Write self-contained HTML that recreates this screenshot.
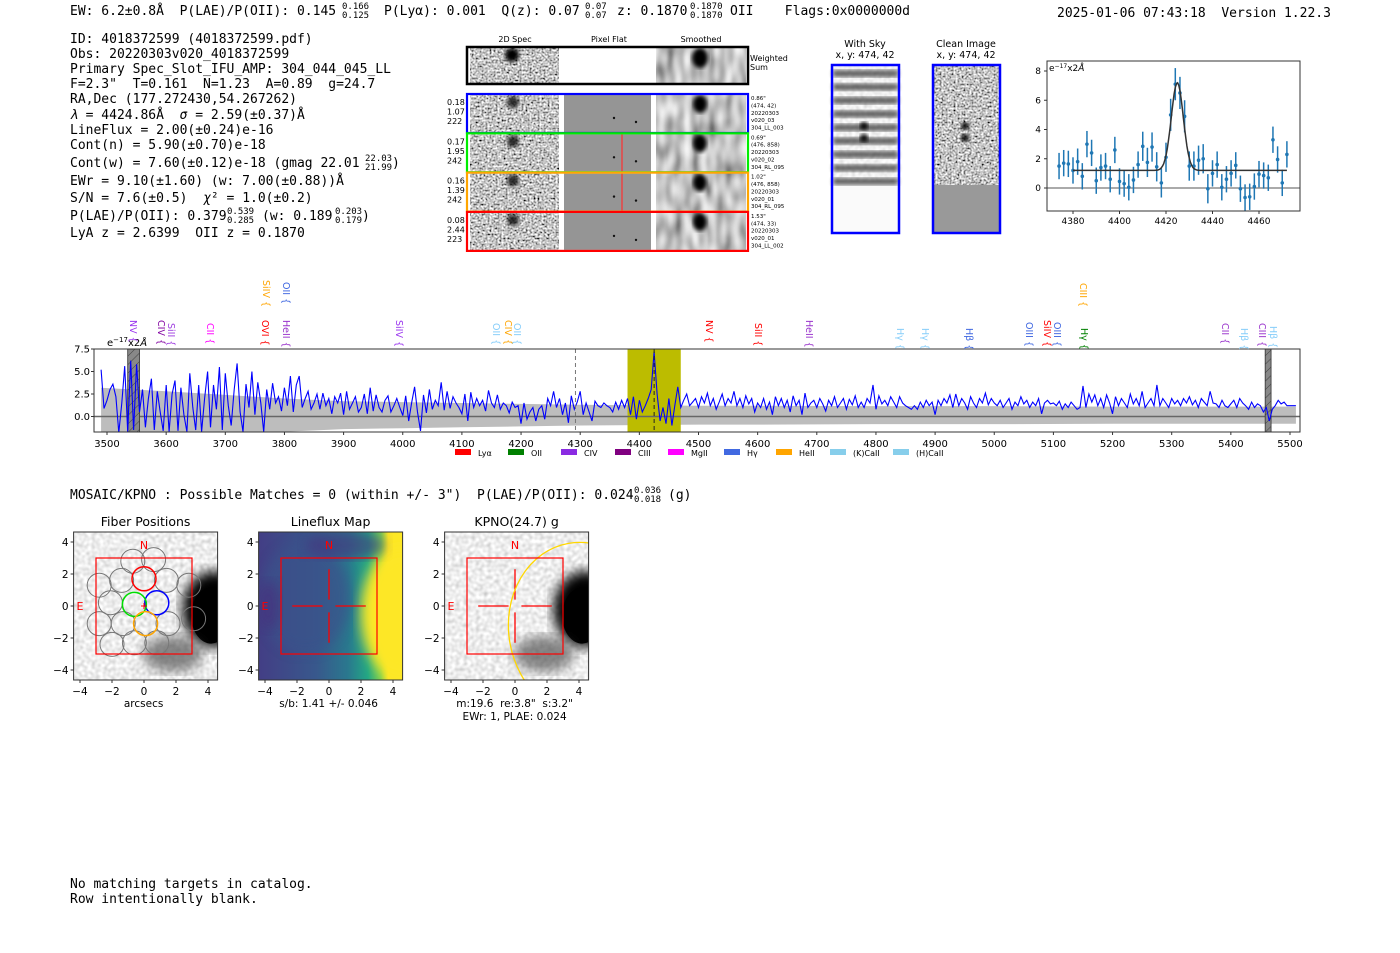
<!DOCTYPE html>
<html><head><meta charset="utf-8">
<style>
html,body{margin:0;padding:0;background:#fff;}
svg{display:block;}
.mono{font-family:"DejaVu Sans Mono","Liberation Mono",monospace;font-size:13px;fill:#000;white-space:pre;}
.mono[font-size="9"]{font-size:9px;}
.sans{font-family:"DejaVu Sans","Liberation Sans",sans-serif;fill:#000;white-space:pre;}
</style></head>
<body>
<svg id="root" width="1400" height="953" viewBox="0 0 1400 953" xmlns="http://www.w3.org/2000/svg" xml:space="preserve">
<defs>
<filter id="nz" x="0" y="0" width="1" height="1"><feTurbulence type="fractalNoise" baseFrequency="0.5" numOctaves="1" seed="3"/><feColorMatrix type="saturate" values="0"/><feComponentTransfer><feFuncR type="linear" slope="2.6" intercept="-0.75"/><feFuncG type="linear" slope="2.6" intercept="-0.75"/><feFuncB type="linear" slope="2.6" intercept="-0.75"/><feFuncA type="linear" slope="0" intercept="1"/></feComponentTransfer></filter>
<filter id="sm" x="0" y="0" width="1" height="1"><feTurbulence type="fractalNoise" baseFrequency="0.12 0.05" numOctaves="1" seed="7"/><feColorMatrix type="saturate" values="0"/><feComponentTransfer><feFuncR type="linear" slope="1.6" intercept="-0.25"/><feFuncG type="linear" slope="1.6" intercept="-0.25"/><feFuncB type="linear" slope="1.6" intercept="-0.25"/><feFuncA type="linear" slope="0" intercept="1"/></feComponentTransfer></filter>
<filter id="px" x="0" y="0" width="1" height="1"><feTurbulence type="fractalNoise" baseFrequency="0.25" numOctaves="1" seed="11"/><feColorMatrix type="saturate" values="0"/><feComponentTransfer><feFuncR type="linear" slope="0.9" intercept="0.4"/><feFuncG type="linear" slope="0.9" intercept="0.4"/><feFuncB type="linear" slope="0.9" intercept="0.4"/><feFuncA type="linear" slope="0" intercept="1"/></feComponentTransfer></filter>
<filter id="bl"><feGaussianBlur stdDeviation="6"/></filter>
<filter id="bl2"><feGaussianBlur stdDeviation="2"/></filter>
<pattern id="hatch" width="6" height="6" patternUnits="userSpaceOnUse" patternTransform="rotate(45)"><rect width="6" height="6" fill="#888"/><line x1="0" y1="0" x2="0" y2="6" stroke="#444" stroke-width="1"/></pattern>
<linearGradient id="vir" x1="0" y1="0" x2="1" y2="0"><stop offset="0" stop-color="#433e85"/><stop offset="0.4" stop-color="#38588c"/><stop offset="0.62" stop-color="#2a788e"/><stop offset="0.76" stop-color="#22a884"/><stop offset="0.85" stop-color="#7ad151"/><stop offset="0.9" stop-color="#fde725"/><stop offset="1" stop-color="#fde725"/></linearGradient>
</defs>

<g>
<text class="mono" x="70" y="15">EW: 6.2±0.8Å  P(LAE)/P(OII): 0.145</text>
<text class="mono" x="342" y="9" font-size="9">0.166</text><text class="mono" x="342" y="18" font-size="9">0.125</text>
<text class="mono" x="384" y="15">P(Lyα): 0.001  Q(z): 0.07</text>
<text class="mono" x="585" y="9" font-size="9">0.07</text><text class="mono" x="585" y="18" font-size="9">0.07</text>
<text class="mono" x="617" y="15">z: 0.1870</text>
<text class="mono" x="690" y="9" font-size="9">0.1870</text><text class="mono" x="690" y="18" font-size="9">0.1870</text>
<text class="mono" x="730" y="15">OII    Flags:0x0000000d</text>
<text class="mono" x="1057" y="17">2025-01-06 07:43:18  Version 1.22.3</text>
</g>

<g>
<text class="mono" x="70" y="43">ID: 4018372599 (4018372599.pdf)</text>
<text class="mono" x="70" y="58">Obs: 20220303v020_4018372599</text>
<text class="mono" x="70" y="73">Primary Spec_Slot_IFU_AMP: 304_044_045_LL</text>
<text class="mono" x="70" y="88">F=2.3"  T=0.161  N=1.23  A=0.89  g=24.7</text>
<text class="mono" x="70" y="103">RA,Dec (177.272430,54.267262)</text>
<text class="mono" x="70" y="119"><tspan font-style="italic">λ</tspan> = 4424.86Å  <tspan font-style="italic">σ</tspan> = 2.59(±0.37)Å</text>
<text class="mono" x="70" y="134">LineFlux = 2.00(±0.24)e-16</text>
<text class="mono" x="70" y="149">Cont(n) = 5.90(±0.70)e-18</text>
<text class="mono" x="70" y="167">Cont(w) = 7.60(±0.12)e-18 (gmag 22.01</text>
<text class="mono" x="365" y="161" font-size="9">22.03</text><text class="mono" x="365" y="170" font-size="9">21.99</text><text class="mono" x="392" y="167">)</text>
<text class="mono" x="70" y="185">EWr = 9.10(±1.60) (w: 7.00(±0.88))Å</text>
<text class="mono" x="70" y="202">S/N = 7.6(±0.5)  <tspan font-style="italic">χ</tspan>² = 1.0(±0.2)</text>
<text class="mono" x="70" y="220">P(LAE)/P(OII): 0.379</text>
<text class="mono" x="227" y="214" font-size="9">0.539</text><text class="mono" x="227" y="223" font-size="9">0.285</text>
<text class="mono" x="262" y="220">(w: 0.189</text>
<text class="mono" x="335" y="214" font-size="9">0.203</text><text class="mono" x="335" y="223" font-size="9">0.179</text><text class="mono" x="362" y="220">)</text>
<text class="mono" x="70" y="237">LyA z = 2.6399  OII z = 0.1870</text>
</g>

<g>
<text class="sans" x="515" y="42" font-size="8" text-anchor="middle">2D Spec</text>
<text class="sans" x="609" y="42" font-size="8" text-anchor="middle">Pixel Flat</text>
<text class="sans" x="701" y="42" font-size="8" text-anchor="middle">Smoothed</text>
<g>
<rect x="470" y="48" width="89" height="36" filter="url(#nz)"/>
<rect x="656" y="48" width="90" height="36" filter="url(#sm)"/>
<ellipse cx="512" cy="55" rx="7" ry="7" fill="#000" filter="url(#bl2)"/>
<ellipse cx="700" cy="58" rx="8" ry="10" fill="#000" filter="url(#bl2)"/>
<rect x="467" y="47" width="281" height="37" fill="none" stroke="#000" stroke-width="2.5"/>
<text class="sans" x="750" y="61" font-size="8">Weighted</text><text class="sans" x="750" y="70" font-size="8">Sum</text>
</g>
</g>
<g id="rows"></g>

<g>
<text class="sans" x="865" y="47" font-size="9.5" text-anchor="middle">With Sky</text>
<text class="sans" x="865" y="58" font-size="9.5" text-anchor="middle">x, y: 474, 42</text>
<text class="sans" x="966" y="47" font-size="9.5" text-anchor="middle">Clean Image</text>
<text class="sans" x="966" y="58" font-size="9.5" text-anchor="middle">x, y: 474, 42</text>
<rect x="832" y="65" width="67" height="168" fill="#fafafa"/>
<g id="skybands"></g>
<ellipse cx="864" cy="126" rx="4" ry="4" fill="#000" filter="url(#bl2)"/>
<ellipse cx="864" cy="138" rx="4" ry="4" fill="#000" filter="url(#bl2)"/>
<rect x="832" y="65" width="67" height="168" fill="none" stroke="#00f" stroke-width="2.5"/>
<rect x="933" y="65" width="67" height="120" filter="url(#nz)"/>
<rect x="933" y="185" width="67" height="48" fill="#999"/>
<ellipse cx="965" cy="126" rx="4" ry="4" fill="#000" filter="url(#bl2)"/>
<ellipse cx="965" cy="138" rx="4" ry="4" fill="#000" filter="url(#bl2)"/>
<rect x="933" y="65" width="67" height="168" fill="none" stroke="#00f" stroke-width="2.5"/>
</g>

<g id="inset"></g>
<g id="spec"></g>
<g id="linelabels"></g>
<g id="legend"></g>

<text class="mono" x="70" y="499">MOSAIC/KPNO : Possible Matches = 0 (within +/- 3")  P(LAE)/P(OII): 0.024</text>
<text class="mono" x="634" y="493" font-size="9">0.036</text><text class="mono" x="634" y="502" font-size="9">0.018</text>
<text class="mono" x="668" y="499">(g)</text>

<g id="panels"></g>

<text class="mono" x="70" y="888">No matching targets in catalog.</text>
<text class="mono" x="70" y="903">Row intentionally blank.</text>
</svg>

<script>
const specStart = 3490;
const specStep = 5;
const specFlux = [5.2,0.9,
1.8,3.0,3.6,2.2,-1.8,1.5,5.6,-1.7,6.2,-1.5,5.8,0.5,3.0,-1.2,2.0,4.2,-1.5,2.8,0.5,-1.6,
3.5,-1.7,2.5,4.0,-1.6,3.2,0.2,-1.7,4.8,1.0,-1.5,3.5,-1.7,2.0,5.0,-1.2,3.5,0.8,5.5,-1.5,
4.8,1.2,-1.0,3.0,5.9,0.5,-1.7,3.6,1.0,5.0,0.2,3.8,1.5,-1.7,3.0,0.8,3.7,1.5,2.2,0.6,
3.2,1.2,4.5,0.5,3.5,4.5,1.0,2.0,2.8,0.8,1.5,2.5,0.8,2.6,1.2,2.0,0.3,2.2,1.5,2.6,
0.2,2.8,0.8,1.5,2.2,0.5,1.0,2.5,0.3,3.2,0.6,2.4,1.0,0.5,1.8,2.3,0.5,1.2,2.0,1.0,
0.1,2.3,-0.5,1.5,3.3,0.5,-1.6,2.4,0.4,3.0,0.8,1.8,1.2,3.8,0.7,2.8,0.9,2.2,1.5,1.0,
0.3,2.5,-0.5,2.7,1.0,2.0,1.2,1.8,0.6,2.9,1.5,1.0,2.4,0.8,1.5,1.2,0.4,1.6,1.0,1.2,
-0.8,1.5,-0.3,0.5,1.0,-0.5,0.8,1.2,-0.3,2.0,1.2,2.8,1.0,2.0,0.2,1.5,-0.7,2.3,0.8,1.6,
2.8,0.2,1.5,0.5,-0.5,1.7,1.2,1.0,1.5,1.2,1.0,0.5,1.6,0.8,1.8,1.0,2.0,0.2,2.2,-0.3,
1.8,0.5,1.2,2.0,3.0,7.2,2.5,-0.5,1.0,-0.8,2.0,-1.0,1.2,3.3,1.0,1.8,2.5,1.2,1.6,2.0,
1.0,2.2,1.5,2.6,1.2,2.0,0.8,1.6,2.5,1.2,2.0,1.5,2.8,1.2,2.0,1.0,2.3,1.4,2.0,0.5,
1.5,1.0,2.0,0.8,1.6,0.2,2.2,1.2,2.0,1.0,1.8,0.5,2.3,1.2,1.8,0.2,2.6,1.0,1.5,1.8,
1.0,2.0,1.4,0.6,1.8,1.2,2.2,1.0,1.5,2.0,0.8,1.9,1.3,2.3,1.0,1.6,1.0,2.0,1.5,3.5,
0.8,2.3,1.4,1.8,1.2,2.2,1.6,1.0,2.2,1.5,1.2,1.0,0.8,1.2,0.8,1.6,1.0,1.8,1.2,1.6,
0.2,1.8,1.2,2.0,1.5,2.4,1.0,2.5,1.2,2.0,1.5,0.8,2.2,1.5,1.0,2.0,1.5,2.6,1.3,2.0,
1.5,1.2,1.8,1.0,1.5,2.0,0.8,1.6,1.2,2.2,1.4,1.8,1.0,1.6,1.2,2.0,0.3,1.5,1.8,1.4,
1.5,1.2,1.7,0.8,1.4,1.0,1.6,1.2,0.8,1.0,3.4,1.0,2.5,1.6,2.4,1.2,2.0,1.0,2.4,1.5,
0.3,2.2,1.2,2.0,1.5,1.0,2.5,1.4,2.0,1.2,2.8,1.0,1.5,2.0,1.2,3.5,1.2,2.0,1.5,1.0,
2.0,1.4,1.8,1.2,2.0,1.5,2.2,1.3,1.8,1.0,2.0,1.6,1.2,2.8,1.5,1.4,1.0,1.8,1.2,1.0,
1.4,1.8,1.0,2.0,1.5,1.2,0.8,1.6,1.0,1.4,1.2,0.5,1.0,-0.5,0.8,1.2,1.8,1.4,1.6,1.2,
1.2,1.2,1.2];
const errWave = [3490,3600,3700,3800,3900,4000,4100,4200,4300,4400,4500,4600,4800,5000,5200,5400,5510];
const errVal  = [3.0,2.6,2.2,1.8,1.5,1.4,1.3,1.2,1.1,1.05,1.0,1.0,0.95,0.95,0.9,0.9,0.9];
const specTicks = [3500,3600,3700,3800,3900,4000,4100,4200,4300,4400,4500,4600,4700,4800,4900,5000,5100,5200,5300,5400,5500];
const specYTicks = [0.0,2.5,5.0,7.5];
const yellowBand = [4380,4470];
const maskBands = [[3535,3555],[5458,5468]];
const dashLines = [4292,4425];

const fitWave = [4374,4376,4378,4380,4382,4384,4386,4388,4390,4392,4394,4396,4398,4400,4402,4404,4406,4408,4410,4412,4414,4416,4418,4420,4422,4424,4426,4428,4430,4432,4434,4436,4438,4440,4442,4444,4446,4448,4450,4452,4454,4456,4458,4460,4462,4464,4466,4468,4470,4472];
const fitFlux = [1.5,1.7,1.65,1.2,1.8,0.8,3.0,2.4,0.5,1.4,1.5,0.6,2.6,0.45,0.3,0.05,0.55,1.6,2.85,1.75,2.8,1.45,0.35,2.1,5.0,7.1,6.5,4.9,1.5,1.5,1.9,2.0,-0.05,1.0,1.6,0.05,0.6,1.0,1.55,-0.05,-0.65,-0.6,0.1,0.95,0.85,0.7,3.3,1.95,0.35,2.3];
const fitErr = [0.9,0.9,0.9,0.9,0.9,0.9,0.9,0.9,0.9,0.9,0.9,0.9,0.9,0.9,0.9,0.9,0.9,0.9,1.0,1.0,1.0,1.0,1.0,1.0,1.1,1.1,1.1,1.1,1.0,1.0,1.0,1.0,1.0,0.9,0.9,0.9,0.9,0.9,0.9,0.9,0.9,0.9,0.9,0.9,0.9,0.9,0.9,0.9,0.9,0.9];
const fitParams = [4424.86, 2.59, 6.0, 1.2];
const insetXTicks = [4380,4400,4420,4440,4460];
const insetYTicks = [0,2,4,6,8];

const NS='http://www.w3.org/2000/svg';
function mk(tag, attrs, parent){const e=document.createElementNS(NS,tag);for(const k in attrs)e.setAttribute(k,attrs[k]);if(parent)parent.appendChild(e);return e;}

(function(){
 const g=document.getElementById('spec');
 const X0=94,X1=1300,Y0=349,Y1=432;
 const sx=w=>107+(w-3500)*(1290-107)/2000;
 const sy=v=>416.5-v*(416.5-349)/7.5;
 const clip=mk('clipPath',{id:'specclip'},g);mk('rect',{x:X0,y:Y0,width:X1-X0,height:Y1-Y0},clip);
 const inner=mk('g',{'clip-path':'url(#specclip)'},g);
 let up=[],dn=[];
 for(let i=0;i<errWave.length;i++){up.push(sx(errWave[i])+','+sy(errVal[i]+0.2));dn.unshift(sx(errWave[i])+','+sy(-errVal[i]+0.1));}
 const band=mk('polygon',{points:up.concat(dn).join(' '),fill:'#bdbdbd'},inner);
 
 
 const yb=mk('rect',{x:sx(yellowBand[0]),y:Y0,width:sx(yellowBand[1])-sx(yellowBand[0]),height:Y1-Y0,fill:'#bcbc00'},inner);
 
 
 mk('line',{x1:X0,x2:X1,y1:sy(0),y2:sy(0),stroke:'#666','stroke-width':1.5},inner);
 maskBands.forEach(b=>{
  const r=mk('rect',{x:sx(b[0]),y:Y0,width:sx(b[1])-sx(b[0]),height:Y1-Y0,fill:'url(#hatch)',stroke:'#333','stroke-width':0.8},inner);
  
  
 });
 let pts=[];for(let i=0;i<specFlux.length;i++)pts.push(sx(specStart+i*specStep).toFixed(1)+','+sy(specFlux[i]).toFixed(1));
 const ln=mk('polyline',{points:pts.join(' '),fill:'none',stroke:'#0000ff','stroke-width':1.1},inner);
 
 
 dashLines.forEach((w,i)=>{
  const d=mk('line',{x1:sx(w),x2:sx(w),y1:Y0,y2:Y1,stroke:i?'#222':'#777','stroke-width':1,'stroke-dasharray':'4,3'},inner);
  
  
 });
 mk('rect',{x:X0,y:Y0,width:X1-X0,height:Y1-Y0,fill:'none',stroke:'#333','stroke-width':1},g);
 specTicks.forEach(t=>{
  mk('line',{x1:sx(t),x2:sx(t),y1:Y1,y2:Y1+3,stroke:'#333'},g);
  const tx=mk('text',{x:sx(t),y:Y1+15,'text-anchor':'middle','font-size':10,class:'sans'},g);tx.textContent=t;
  
  
 });
 specYTicks.forEach(t=>{
  mk('line',{x1:X0-3,x2:X0,y1:sy(t),y2:sy(t),stroke:'#333'},g);
  const tx=mk('text',{x:X0-4,y:sy(t)+3.5,'text-anchor':'end','font-size':10,class:'sans'},g);tx.textContent=t.toFixed(1);
  
  
 });
 const u=mk('text',{x:107,y:346,'font-size':10,class:'sans'},g);u.innerHTML='e<tspan font-size="7" dy="-4">−17</tspan><tspan dy="4">x2</tspan><tspan font-style="italic">Å</tspan>';
 
 
})();

const lineLabelNames=['NV','CIV','SiII','CII','SiIV','OII','OVI','HeII','SiIV','OII','CIV','OII','NV','SiII','HeII','Hγ','Hγ','Hβ','OIII','SiIV','OIII','CIII','Hγ','CII','Hβ','CIII','Hβ'];
const lineLabelX=[133,161,171,210,266,286,265,286,399,496,508,517,709,758,809,900,925,969,1029,1047,1057,1083,1084,1225,1244,1262,1273];
const lineLabelY=[320,320,323,323,280,282,320,320,320,323,320,323,320,323,320,328,328,328,322,320,322,283,328,323,328,323,326];
const lineLabelC=['#9933ee','#8000a0','#a040e0','#ff00ff','#ffa500','#4169e1','#ff0000','#9933cc','#9933ee','#87cefa','#ffa500','#87cefa','#ff0000','#ff0000','#9933cc','#87cefa','#87cefa','#4169e1','#4169e1','#ff0000','#4169e1','#ffa500','#008000','#9933cc','#87cefa','#9933cc','#87cefa'];
(function(){
 const g=document.getElementById('linelabels');
 for(let i=0;i<lineLabelNames.length;i++){
  const t=mk('text',{transform:`translate(${lineLabelX[i]-3},${lineLabelY[i]}) rotate(90)`,'font-size':9.5,class:'sans'},g);
  t.style.fill=lineLabelC[i];
  t.textContent=lineLabelNames[i]+' {';
  
  
 }
})();

const legendNames=['Lyα','OII','CIV','CIII','MgII','Hγ','HeII','(K)CaII','(H)CaII'];
const legendColors=['#ff0000','#008000','#8a2be2','#800080','#ff00ff','#4169e1','#ffa500','#87ceeb','#87ceeb'];
const legendX=[455,508,561,615,668,724,776,830,893];
(function(){
 const g=document.getElementById('legend');
 for(let i=0;i<legendNames.length;i++){
  const r=mk('rect',{x:legendX[i],y:449,width:16,height:6,fill:legendColors[i]},g);
  
  
  const t=mk('text',{x:legendX[i]+23,y:456,'font-size':8,class:'sans'},g);t.textContent=legendNames[i];
  
  
 }
})();

(function(){
 const g=document.getElementById('inset');
 const X0=1047,X1=1300,Y0=61,Y1=211;
 const sx=w=>1073+(w-4380)*(1259-1073)/80;
 const sy=v=>188-v*(188-71)/8;
 const clip=mk('clipPath',{id:'insclip'},g);mk('rect',{x:X0,y:Y0,width:X1-X0,height:Y1-Y0},clip);
 const inner=mk('g',{'clip-path':'url(#insclip)'},g);
 mk('line',{x1:X0,x2:X1,y1:sy(0),y2:sy(0),stroke:'#555','stroke-width':1},inner);
 for(let i=0;i<fitWave.length;i++){
  const x=sx(fitWave[i]);
  const e=mk('line',{x1:x,x2:x,y1:sy(fitFlux[i]-fitErr[i]),y2:sy(fitFlux[i]+fitErr[i]),stroke:'#1f77b4','stroke-width':1.5},inner);
  
  
  const p=mk('circle',{cx:x,cy:sy(fitFlux[i]),r:1.8,fill:'#1f77b4'},inner);
  
  
 }
 let pts=[];
 for(let w=4380;w<=4472;w+=0.5){const v=fitParams[3]+fitParams[2]*Math.exp(-Math.pow(w-fitParams[0],2)/(2*fitParams[1]*fitParams[1]));pts.push(sx(w).toFixed(1)+','+sy(v).toFixed(1));}
 const m=mk('polyline',{points:pts.join(' '),fill:'none',stroke:'#333','stroke-width':1.5},inner);
 
 
 mk('rect',{x:X0,y:Y0,width:X1-X0,height:Y1-Y0,fill:'none',stroke:'#333','stroke-width':1},g);
 insetXTicks.forEach(t=>{mk('line',{x1:sx(t),x2:sx(t),y1:Y1,y2:Y1+3,stroke:'#333'},g);const tx=mk('text',{x:sx(t),y:Y1+13,'text-anchor':'middle','font-size':9,class:'sans'},g);tx.textContent=t;
  
  });
 insetYTicks.forEach(t=>{mk('line',{x1:X0-3,x2:X0,y1:sy(t),y2:sy(t),stroke:'#333'},g);const tx=mk('text',{x:X0-6,y:sy(t)+3,'text-anchor':'end','font-size':9,class:'sans'},g);tx.textContent=t;
  
  });
 const u=mk('text',{x:X0+2,y:71,'font-size':9,class:'sans'},g);u.innerHTML='e<tspan font-size="6" dy="-3">−17</tspan><tspan dy="3">x2</tspan><tspan font-style="italic">Å</tspan>';
 
 
})();

const rowColors=['#0000ff','#00ee00','#ffa500','#ff0000'];
const rowLabels=[['0.18','1.07','222'],['0.17','1.95','242'],['0.16','1.39','242'],['0.08','2.44','223']];
const rowInfo=[['0.86"','(474, 42)','20220303','v020_03','304_LL_003'],['0.69"','(476, 858)','20220303','v020_02','304_RL_095'],['1.02"','(476, 858)','20220303','v020_01','304_RL_095'],['1.53"','(474, 33)','20220303','v020_01','304_LL_002']];
(function(){
 const g=document.getElementById('rows');
 for(let i=0;i<4;i++){
  const y=95+i*39.3;
  const row=mk('g',{},g);
  
  
  mk('rect',{x:470,y:y,width:89,height:37,filter:'url(#nz)'},row);
  mk('rect',{x:564,y:y,width:87,height:37,fill:'#959595'},row);
  mk('rect',{x:656,y:y,width:90,height:37,filter:'url(#sm)'},row);
  mk('ellipse',{cx:513,cy:y+7,rx:6,ry:6,fill:'#000',filter:'url(#bl2)',opacity:0.8},row);
  mk('ellipse',{cx:700,cy:y+9,rx:7,ry:9,fill:'#000',filter:'url(#bl2)'},row);
  if(i==1||i==2)mk('line',{x1:622,x2:622,y1:y,y2:y+37,stroke:'#ff3030','stroke-width':1.2},row);
  mk('circle',{cx:614,cy:y+23,r:1.2,fill:'#111'},row);mk('circle',{cx:636,cy:y+27,r:1.2,fill:'#111'},row);
  mk('rect',{x:467,y:y-1,width:281,height:39,fill:'none',stroke:rowColors[i],'stroke-width':2.2},row);
  for(let k=0;k<3;k++){const t=mk('text',{x:447,y:y+10+k*9.5,'font-size':8,class:'sans'},row);t.textContent=rowLabels[i][k];}
  for(let k=0;k<5;k++){const t=mk('text',{x:751,y:y+5+k*7.4,'font-size':5.5,class:'sans'},row);t.textContent=rowInfo[i][k];}
 }
 const sb=document.getElementById('skybands');
 mk('rect',{x:833,y:66,width:65,height:116,filter:'url(#px)',opacity:0.6},sb);
 for(let k=0;k<9;k++){mk('rect',{x:833,y:70+k*13.5,width:65,height:7,fill:'#333',opacity:0.75,filter:'url(#bl2)'},sb);}
})();

const fiberX=[-0.7,0.6,-2.8,-1.4,1.4,2.8,-2.1,3.1,-2.8,-1.3,1.5,-2.0,-0.6,0.8];
const fiberY=[2.8,2.9,1.3,1.6,1.6,1.3,0.2,-0.8,-1.1,-1.1,-1.1,-2.4,-2.3,-2.3];
const hiX=[0,0.8,-0.6,0.1];
const hiY=[1.7,0.2,0.1,-1.1];
const hiC=['#ff0000','#0000ff','#00dd00','#ffa500'];
const axTicks=[-4,-2,0,2,4];
(function(){
 const g=document.getElementById('panels');
 const panels=[{x0:144,title:'Fiber Positions',cap:['arcsecs']},{x0:329,title:'Lineflux Map',cap:['s/b: 1.41 +/- 0.046']},{x0:515,title:'KPNO(24.7) g',cap:['m:19.6  re:3.8"  s:3.2"','EWr: 1, PLAE: 0.024']}];
 panels.forEach((p,pi)=>{
  const pg=mk('g',{},g);
  
  
  const sx=v=>p.x0+v*16, sy=v=>606-v*16;
  const L=sx(-4.4),R=sx(4.6),T=532,B=680;
  const cid='pc'+pi;const cp=mk('clipPath',{id:cid},pg);mk('rect',{x:L,y:T,width:R-L,height:B-T},cp);
  const inner=mk('g',{'clip-path':`url(#${cid})`},pg);
  if(pi==1){
   mk('rect',{x:L,y:T,width:R-L,height:B-T,fill:'url(#vir)'},inner);
   mk('ellipse',{cx:sx(4.5),cy:sy(-0.5),rx:40,ry:65,fill:'#fde725',filter:'url(#bl)'},inner);
   mk('ellipse',{cx:sx(-1.5),cy:sy(0.5),rx:45,ry:55,fill:'#3b528b',opacity:0.7,filter:'url(#bl)'},inner);
   mk('ellipse',{cx:sx(1),cy:sy(3.8),rx:40,ry:14,fill:'#46327e',opacity:0.6,filter:'url(#bl)'},inner);
   mk('ellipse',{cx:sx(-3.8),cy:sy(0),rx:12,ry:25,fill:'#46327e',opacity:0.7,filter:'url(#bl)'},inner);
  } else {
   mk('rect',{x:L,y:T,width:R-L,height:B-T,filter:'url(#px)'},inner);
   mk('ellipse',{cx:sx(4.4),cy:sy(-0.2),rx:32,ry:38,fill:'#000',filter:'url(#bl)'},inner);
   mk('ellipse',{cx:sx(4.2),cy:sy(-0.6),rx:20,ry:28,fill:'#000'},inner);
   mk('ellipse',{cx:sx(1.8),cy:sy(-3),rx:30,ry:18,fill:'#555',opacity:0.7,filter:'url(#bl)'},inner);
  }
  if(pi==0){
   for(let i=0;i<fiberX.length;i++){const c=mk('circle',{cx:sx(fiberX[i]),cy:sy(fiberY[i]),r:12,fill:'none',stroke:'#777','stroke-width':1},inner);
    
    }
   for(let i=0;i<hiX.length;i++){const c=mk('circle',{cx:sx(hiX[i]),cy:sy(hiY[i]),r:12,fill:'none',stroke:hiC[i],'stroke-width':1.5},inner);
    
    }
   mk('path',{d:`M${sx(0)-3},${sy(0)}h6M${sx(0)},${sy(0)-3}v6`,stroke:'#f00','stroke-width':1},inner);
  } else {
   mk('path',{d:`M${sx(-2.3)},${sy(0)}H${sx(-0.4)}M${sx(0.4)},${sy(0)}H${sx(2.3)}M${sx(0)},${sy(2.3)}V${sy(0.4)}M${sx(0)},${sy(-0.4)}V${sy(-2.3)}`,stroke:'#f00','stroke-width':1.3},inner);
  }
  if(pi==2){mk('ellipse',{cx:sx(4.3),cy:sy(-1.5),rx:75,ry:88,fill:'none',stroke:'#ffd700','stroke-width':1.3,transform:`rotate(-10 ${sx(4.3)} ${sy(-1.5)})`},inner);}
  mk('rect',{x:sx(-3),y:sy(3),width:96,height:96,fill:'none',stroke:'#f00','stroke-width':1.2},inner);
  const n=mk('text',{x:sx(0),y:sy(3.8)+4,'font-size':11,'text-anchor':'middle',class:'sans'},inner);n.style.fill='#f00';n.textContent='N';
  const e=mk('text',{x:sx(-4),y:sy(0)+4,'font-size':11,'text-anchor':'middle',class:'sans'},inner);e.style.fill='#f00';e.textContent='E';
  mk('rect',{x:L,y:T,width:R-L,height:B-T,fill:'none',stroke:'#333','stroke-width':1},pg);
  axTicks.forEach(t=>{
   mk('line',{x1:sx(t),x2:sx(t),y1:B,y2:B+3,stroke:'#333'},pg);
   const tx=mk('text',{x:sx(t),y:B+15,'font-size':10.5,'text-anchor':'middle',class:'sans'},pg);tx.textContent=t<0?'−'+(-t):t;
   mk('line',{x1:L-3,x2:L,y1:sy(t),y2:sy(t),stroke:'#333'},pg);
   const ty=mk('text',{x:L-5,y:sy(t)+4,'font-size':10.5,'text-anchor':'end',class:'sans'},pg);ty.textContent=t<0?'−'+(-t):t;
  });
  const tt=mk('text',{x:(L+R)/2,y:526,'font-size':12.5,'text-anchor':'middle',class:'sans'},pg);tt.textContent=p.title;
  
  
  p.cap.forEach((c,ci)=>{const ct=mk('text',{x:(L+R)/2-2,y:707+ci*13,'font-size':10.5,'text-anchor':'middle',class:'sans'},pg);ct.textContent=c;});
 });
})();
</script>
</body></html>
